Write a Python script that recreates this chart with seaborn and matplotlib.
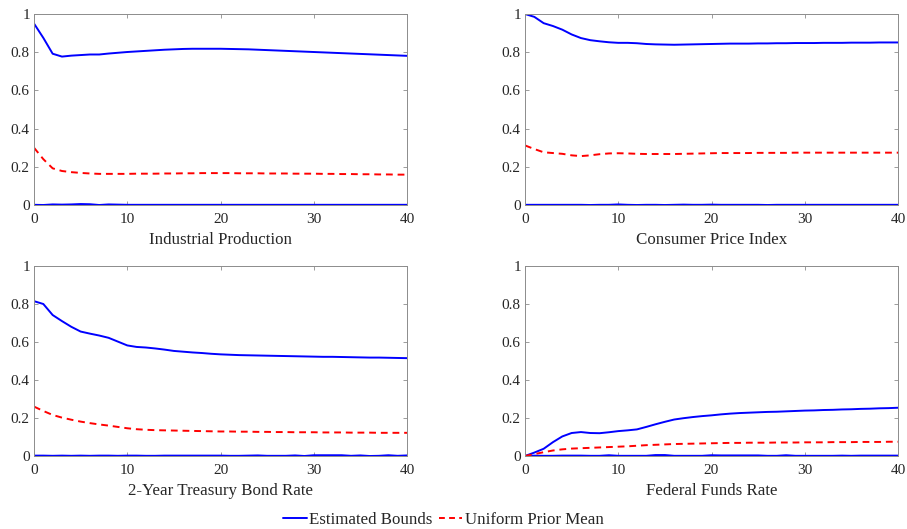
import numpy as np
import pandas as pd
import matplotlib
matplotlib.use("Agg")
import matplotlib.pyplot as plt
import seaborn as sns
from matplotlib.lines import Line2D

sns.set_style("white")
plt.rcParams['font.family'] = ['Liberation Serif', 'DejaVu Serif']

horizons = list(range(41))
titles = ["Industrial Production", "Consumer Price Index",
          "2-Year Treasury Bond Rate", "Federal Funds Rate"]

ip_upper = [0.950, 0.875, 0.792, 0.777, 0.782, 0.785, 0.788, 0.788, 0.793, 0.797,
            0.801, 0.804, 0.807, 0.810, 0.813, 0.815, 0.817, 0.818, 0.818, 0.818,
            0.818, 0.817, 0.816, 0.815, 0.813, 0.811, 0.809, 0.807, 0.805, 0.803,
            0.801, 0.799, 0.797, 0.795, 0.793, 0.791, 0.789, 0.787, 0.785, 0.783, 0.781]
ip_lower = [0.001, 0.000, 0.003, 0.002, 0.003, 0.005, 0.004, 0.000, 0.003, 0.002,
            0.001, 0.001, 0.001, 0.001, 0.001, 0.001, 0.001, 0.001, 0.001, 0.001,
            0.001, 0.001, 0.001, 0.001, 0.001, 0.001, 0.001, 0.001, 0.001, 0.001,
            0.001, 0.001, 0.001, 0.001, 0.001, 0.001, 0.001, 0.001, 0.001, 0.001, 0.001]
ip_mean = [0.300, 0.240, 0.192, 0.178, 0.172, 0.168, 0.165, 0.163, 0.163, 0.163,
           0.163, 0.164, 0.164, 0.164, 0.165, 0.165, 0.166, 0.166, 0.167, 0.167,
           0.167, 0.167, 0.166, 0.166, 0.166, 0.165, 0.165, 0.165, 0.164, 0.164,
           0.164, 0.163, 0.163, 0.162, 0.162, 0.161, 0.161, 0.160, 0.160, 0.159, 0.159]

cpi_upper = [1.000, 0.985, 0.952, 0.937, 0.918, 0.893, 0.874, 0.863, 0.857, 0.852,
             0.849, 0.849, 0.847, 0.843, 0.841, 0.840, 0.839, 0.840, 0.841, 0.842,
             0.843, 0.844, 0.845, 0.845, 0.845, 0.846, 0.846, 0.847, 0.847, 0.848,
             0.848, 0.848, 0.849, 0.849, 0.849, 0.850, 0.850, 0.850, 0.851, 0.851, 0.851]
cpi_lower = [0.001, 0.001, 0.001, 0.001, 0.001, 0.001, 0.001, 0.000, 0.001, 0.001,
             0.003, 0.001, 0.000, 0.001, 0.001, 0.000, 0.001, 0.002, 0.001, 0.001,
             0.002, 0.001, 0.001, 0.001, 0.001, 0.001, 0.000, 0.001, 0.001, 0.001,
             0.001, 0.001, 0.001, 0.001, 0.001, 0.001, 0.001, 0.001, 0.001, 0.001, 0.001]
cpi_mean = [0.312, 0.293, 0.276, 0.272, 0.268, 0.260, 0.256, 0.260, 0.266, 0.270,
            0.271, 0.270, 0.268, 0.267, 0.267, 0.267, 0.267, 0.268, 0.269, 0.270,
            0.271, 0.272, 0.272, 0.272, 0.272, 0.273, 0.273, 0.273, 0.273, 0.274,
            0.274, 0.274, 0.274, 0.274, 0.274, 0.274, 0.274, 0.274, 0.274, 0.274, 0.274]

tb_upper = [0.815, 0.800, 0.742, 0.710, 0.680, 0.655, 0.644, 0.634, 0.622, 0.602,
            0.582, 0.574, 0.571, 0.566, 0.560, 0.553, 0.549, 0.545, 0.542, 0.538,
            0.535, 0.533, 0.531, 0.530, 0.529, 0.528, 0.527, 0.526, 0.525, 0.524,
            0.523, 0.522, 0.522, 0.521, 0.520, 0.519, 0.518, 0.518, 0.517, 0.516, 0.515]
tb_lower = [0.002, 0.002, 0.001, 0.002, 0.001, 0.002, 0.001, 0.002, 0.002, 0.001,
            0.002, 0.002, 0.001, 0.001, 0.002, 0.002, 0.002, 0.002, 0.002, 0.002,
            0.002, 0.001, 0.001, 0.002, 0.003, 0.001, 0.001, 0.001, 0.003, 0.000,
            0.004, 0.004, 0.004, 0.004, 0.001, 0.003, 0.000, 0.001, 0.004, 0.001, 0.003]
tb_mean = [0.260, 0.237, 0.216, 0.202, 0.191, 0.181, 0.173, 0.166, 0.160, 0.153,
           0.146, 0.141, 0.138, 0.136, 0.135, 0.134, 0.133, 0.132, 0.131, 0.130,
           0.129, 0.129, 0.128, 0.128, 0.127, 0.127, 0.126, 0.126, 0.125, 0.125,
           0.125, 0.124, 0.124, 0.124, 0.123, 0.123, 0.123, 0.122, 0.122, 0.122, 0.122]

ff_upper = [0.000, 0.018, 0.038, 0.073, 0.103, 0.121, 0.126, 0.121, 0.120, 0.125,
            0.131, 0.135, 0.140, 0.153, 0.167, 0.180, 0.192, 0.199, 0.205, 0.210,
            0.214, 0.219, 0.223, 0.226, 0.228, 0.230, 0.232, 0.233, 0.235, 0.237,
            0.239, 0.240, 0.242, 0.243, 0.245, 0.246, 0.248, 0.249, 0.251, 0.252, 0.254]
ff_lower = [0.000, 0.002, 0.001, 0.001, 0.002, 0.002, 0.002, 0.001, 0.001, 0.004,
            0.001, 0.001, 0.001, 0.001, 0.005, 0.005, 0.001, 0.001, 0.001, 0.001,
            0.004, 0.003, 0.003, 0.003, 0.003, 0.003, 0.001, 0.001, 0.004, 0.001,
            0.001, 0.001, 0.001, 0.001, 0.002, 0.001, 0.002, 0.002, 0.002, 0.002, 0.002]
ff_mean = [0.000, 0.010, 0.020, 0.029, 0.035, 0.039, 0.041, 0.043, 0.045, 0.047,
           0.049, 0.051, 0.054, 0.057, 0.059, 0.061, 0.063, 0.064, 0.065, 0.066,
           0.067, 0.068, 0.069, 0.069, 0.070, 0.070, 0.070, 0.071, 0.071, 0.071,
           0.072, 0.072, 0.072, 0.073, 0.073, 0.073, 0.074, 0.074, 0.074, 0.075, 0.075]

series = [(ip_upper, ip_lower, ip_mean), (cpi_upper, cpi_lower, cpi_mean),
          (tb_upper, tb_lower, tb_mean), (ff_upper, ff_lower, ff_mean)]

W, H = 907, 529
fig = plt.figure(figsize=(W / 100, H / 100), dpi=100)

def rect(l, r, t, b):
    return [l / W, 1 - b / H, (r - l) / W, (b - t) / H]

rects = [rect(34, 407, 14, 205), rect(525, 898, 14, 205),
         rect(34, 407, 266, 456), rect(525, 898, 266, 456)]

blue = "#0000ff"
red = "#ff0000"
edge = "#8c8c8c"
txt = "#262626"

for i, (r, (up, lo, mn)) in enumerate(zip(rects, series)):
    ax = fig.add_axes(r)
    df = pd.DataFrame({"h": horizons, "up": up, "lo": lo, "mn": mn})
    sns.lineplot(data=df, x="h", y="up", ax=ax, color=blue, lw=1.4)
    sns.lineplot(data=df, x="h", y="lo", ax=ax, color=blue, lw=1.4)
    sns.lineplot(data=df, x="h", y="mn", ax=ax, color=red, lw=1.4, dashes=False)
    ax.lines[-1].set_linestyle((0, (3.5, 2.5)))
    ax.set_xlim(0, 40)
    ax.set_ylim(0, 1)
    ax.set_xticks([0, 10, 20, 30, 40])
    ax.set_yticks([0, 0.2, 0.4, 0.6, 0.8, 1])
    ax.set_yticklabels(["0", "0.2", "0.4", "0.6", "0.8", "1"])
    ax.set_ylabel("")
    ax.set_xlabel(titles[i], fontsize=12.2, color=txt, labelpad=4)
    ax.tick_params(direction="in", length=3, width=0.6, colors=edge,
                   labelcolor=txt, labelsize=11, top=True, right=True,
                   bottom=True, left=True, pad=3)
    ax.tick_params(axis="x", pad=6)
    for s in ax.spines.values():
        s.set_color(edge)
        s.set_linewidth(0.7)
        s.set_visible(True)

handles = [Line2D([0], [0], color=blue, lw=1.4),
           Line2D([0], [0], color=red, lw=1.4, linestyle=(0, (3, 2.2)))]
fig.legend(handles, ["Estimated Bounds", "Uniform Prior Mean"], loc="center",
           bbox_to_anchor=(0.489, 1 - 520 / H), ncol=2, frameon=False,
           fontsize=12.2, handlelength=1.4, handletextpad=0.15, columnspacing=0.35,
           labelcolor=txt)

fig.savefig("out.png", dpi=100)
